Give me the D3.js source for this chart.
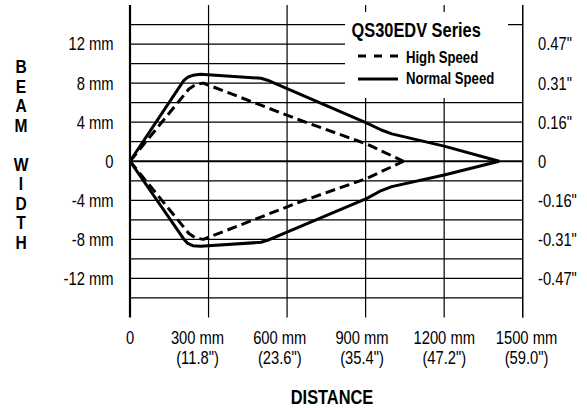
<!DOCTYPE html>
<html>
<head>
<meta charset="utf-8">
<script src="https://cdn.jsdelivr.net/npm/d3@7"></script>
<style>
  html, body { margin: 0; padding: 0; background: #fff; }
  svg { display: block; }
  text { font-family: "Liberation Sans", Arial, sans-serif; fill: #000; }
  .vtitle { writing-mode: vertical-rl; text-orientation: upright; }
</style>
</head>
<body>
<svg id="chart" width="587" height="408"></svg>
<script>
// ---------------- data ----------------
const xTicks = [0, 300, 600, 900, 1200, 1500];
const xTickLabels = ["0", "300 mm", "600 mm", "900 mm", "1200 mm", "1500 mm"];
const xTickInches = ["", "(11.8\")", "(23.6\")", "(35.4\")", "(47.2\")", "(59.0\")"];
const yGrid = [-14, -12, -10, -8, -6, -4, -2, 2, 4, 6, 8, 10, 12, 14];
const yTicks = [12, 8, 4, 0, -4, -8, -12];
const yLabelsLeft = ["12 mm", "8 mm", "4 mm", "0", "-4 mm", "-8 mm", "-12 mm"];
const yLabelsRight = ["0.47\"", "0.31\"", "0.16\"", "0", "-0.16\"", "-0.31\"", "-0.47\""];

// Normal Speed beam envelope (distance mm, half width mm)
const normalDist  = [0, 205, 220, 240, 270, 500, 525, 905, 960, 1000, 1200, 1410];
const normalUpper = [0, 8.25, 8.6, 8.8, 8.9, 8.5, 8.3, 3.9, 3.2, 2.8, 1.55, 0];
const normalLower = [0, -7.95, -8.4, -8.65, -8.7, -8.3, -8.1, -3.8, -3.0, -2.6, -1.4, 0];

// High Speed beam envelope
const highDist  = [0, 225, 250, 280, 650, 905, 1045];
const highUpper = [0, 7.4, 7.85, 8.0, 4.2, 1.75, 0];
const highLower = [0, -7.4, -7.85, -8.0, -4.15, -1.75, 0];

const legendTitle = "QS30EDV Series";
const seriesNames = ["High Speed", "Normal Speed"];
const yTitle = "BEAM WIDTH";
const xTitle = "DISTANCE";

// ---------------- drawing ----------------
const NARROW = 0.82; // horizontal condensing to mimic a narrow sans face
const svg = d3.select("#chart");
const x = d3.scaleLinear().domain([0, 1500]).range([130, 522.7]);
const y = d3.scaleLinear().domain([-16, 16]).range([317.5, 5]);
const xLabel = d3.scaleLinear().domain([300, 1500]).range([197.5, 526.5]);

function ntext(sel, px, py, anchor, size, bold) {
  sel.attr("transform", (d, i) => `translate(${px(d, i)},${py(d, i)}) scale(${NARROW},1)`);
  return sel.append("text")
    .attr("text-anchor", anchor)
    .attr("font-size", size)
    .attr("font-weight", bold ? "bold" : "normal");
}

const grid = svg.append("g");
grid.selectAll("line.h").data(yGrid).join("line")
  .attr("x1", x(0)).attr("x2", x(1500))
  .attr("y1", d => y(d)).attr("y2", d => y(d))
  .attr("stroke", "#000").attr("stroke-width", 1.2);
grid.selectAll("line.v").data(xTicks.slice(1)).join("line")
  .attr("x1", d => x(d)).attr("x2", d => x(d))
  .attr("y1", y(16)).attr("y2", y(-16))
  .attr("stroke", "#000").attr("stroke-width", 1.2);

// legend background (masks grid)
const lg = svg.append("g");
lg.append("rect").attr("x", 345).attr("y", 12).attr("width", 163).attr("height", 86).attr("fill", "#fff");
lg.append("rect").attr("x", 507).attr("y", 31).attr("width", 15).attr("height", 67).attr("fill", "#fff");
svg.append("line")
  .attr("x1", x(1500)).attr("x2", x(1500)).attr("y1", y(16)).attr("y2", y(-16))
  .attr("stroke", "#000").attr("stroke-width", 1.2);

// zero line and left axis
svg.append("line")
  .attr("x1", x(0)).attr("x2", x(1500)).attr("y1", y(0)).attr("y2", y(0))
  .attr("stroke", "#000").attr("stroke-width", 2.2);
svg.append("line")
  .attr("x1", x(0)).attr("x2", x(0)).attr("y1", y(16)).attr("y2", y(-16))
  .attr("stroke", "#000").attr("stroke-width", 2.2);

// series lines
const line = d3.line().x(d => x(d[0])).y(d => y(d[1])).curve(d3.curveLinear);
function drawSeries(dist, vals, dashed) {
  svg.append("path")
    .datum(dist.map((d, i) => [d, vals[i]]))
    .attr("d", line)
    .attr("fill", "none")
    .attr("stroke", "#000")
    .attr("stroke-width", 3)
    .attr("stroke-linejoin", "round")
    .attr("stroke-dasharray", dashed ? "10,5" : null);
}
drawSeries(highDist, highUpper, true);
drawSeries(highDist, highLower, true);
drawSeries(normalDist, normalUpper, false);
drawSeries(normalDist, normalLower, false);

// legend content
ntext(lg.append("g").datum(legendTitle), () => 351.5, () => 37, "start", 20, true).text(legendTitle);
lg.append("line").attr("x1", 358).attr("x2", 398).attr("y1", 56).attr("y2", 56)
  .attr("stroke", "#000").attr("stroke-width", 3).attr("stroke-dasharray", "8,8");
lg.append("line").attr("x1", 358).attr("x2", 398).attr("y1", 79).attr("y2", 79)
  .attr("stroke", "#000").attr("stroke-width", 3);
ntext(lg.selectAll("g.ent").data(seriesNames).join("g"), () => 406, (d, i) => 63 + i * 20.5, "start", 16, true)
  .text(d => d);

// left y labels
ntext(svg.append("g").selectAll("g").data(yTicks).join("g"), () => 113.5, d => y(d) + 6.4, "end", 18, false)
  .text((d, i) => yLabelsLeft[i]);
// right y labels
ntext(svg.append("g").selectAll("g").data(yTicks).join("g"), () => 538, d => y(d) + 6.4, "start", 18, false)
  .text((d, i) => yLabelsRight[i]);

// x labels
ntext(svg.append("g").selectAll("g").data(xTicks).join("g"), d => d === 0 ? x(d) : xLabel(d), () => 344, "middle", 18, false)
  .text((d, i) => xTickLabels[i]);
ntext(svg.append("g").selectAll("g").data(xTicks.slice(1)).join("g"), d => xLabel(d), () => 364, "middle", 18, false)
  .text((d, i) => xTickInches[i + 1]);

// axis titles
ntext(svg.append("g").datum(xTitle), () => 332, () => 404, "middle", 20, true).text(xTitle);
// vertical stacked y title as one upright vertical text
ntext(svg.append("g").datum(yTitle), () => 21, () => 56, "start", 19, true)
  .attr("class", "vtitle")
  .attr("letter-spacing", -2.4)
  .text(yTitle);
</script>
</body>
</html>
